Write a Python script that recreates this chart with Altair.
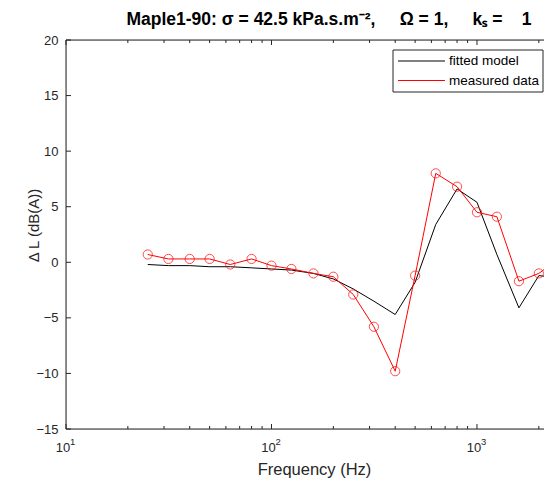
import altair as alt
import pandas as pd

# ---- data ----
freqs = [25, 31.5, 40, 50, 63, 80, 100, 125, 160, 200, 250, 315, 400, 500,
         630, 800, 1000, 1250, 1600, 2000, 2500]
measured = [0.7, 0.3, 0.3, 0.3, -0.2, 0.3, -0.3, -0.6, -1.0, -1.3, -2.9, -5.8,
            -9.8, -1.2, 8.0, 6.8, 4.5, 4.1, -1.7, -1.0, 0.3]
model = [-0.2, -0.3, -0.3, -0.4, -0.4, -0.5, -0.6, -0.7, -1.0, -1.5, -2.4,
         -3.5, -4.7, -1.8, 3.4, 6.6, 5.4, 0.7, -4.1, -1.2, -1.4]
y_ticks = [-15, -10, -5, 0, 5, 10, 15, 20]
x_major = [10, 100, 1000]
x_major_exp = ["1", "2", "3"]
x_minor = [20, 30, 40, 50, 60, 70, 80, 90, 200, 300, 400, 500, 600, 700,
           800, 900, 2000]
legend_labels = ["fitted model", "measured data"]
legend_colors = ["black", "red"]
NB = "\u00a0"
title_text = ("Maple1-90: \u03c3 = 42.5 kPa.s.m\u207b\u00b2," + NB * 5 + "\u03a9 = 1," + NB * 5
              + "k\u209b" + NB + "=" + NB * 4 + "1")
x_title = "Frequency (Hz)"
y_title = "\u0394 L (dB(A))"

# ---- layout ----
W, H = 478, 389
X_MAX = 2119
FONT = "Liberation Sans"
GREY = "#262626"

xs = alt.Scale(type="log", domain=[10, X_MAX], nice=False)
ys = alt.Scale(domain=[-15, 20], nice=False, zero=False)

x_axis = alt.Axis(values=x_major, grid=False, ticks=False, domain=False, labels=False,
                  title=x_title, titleFont=FONT, titleFontSize=16.5, titleFontWeight="normal",
                  titleColor=GREY, titleX=248, titleY=40, titleBaseline="middle",
                  titleAlign="center")
y_axis = alt.Axis(values=y_ticks, grid=False, ticks=False, domain=False,
                  labelFont=FONT, labelFontSize=13, labelColor=GREY, labelPadding=8,
                  labelFlush=False,
                  title=y_title, titleFont=FONT, titleFontSize=15, titleFontWeight="normal",
                  titleColor=GREY, titleX=-33, titleY=185, titleBaseline="middle",
                  titleAlign="center", titleAngle=270)

df = pd.DataFrame({"f": freqs, "measured": measured, "model": model})
base = alt.Chart(df)

model_line = base.mark_line(color="black", strokeWidth=1, clip=True).encode(
    x=alt.X("f:Q", scale=xs, axis=x_axis),
    y=alt.Y("model:Q", scale=ys, axis=y_axis))
meas_line = base.mark_line(color="red", strokeWidth=1, clip=True).encode(
    x=alt.X("f:Q", scale=xs, axis=x_axis),
    y=alt.Y("measured:Q", scale=ys, axis=y_axis))
meas_pts = base.mark_point(shape="circle", color="red", filled=False, size=85,
                           strokeWidth=1, clip=True).encode(
    x=alt.X("f:Q", scale=xs, axis=x_axis),
    y=alt.Y("measured:Q", scale=ys, axis=y_axis))

# frame: left, top, bottom (right edge lies beyond the visible area)
one = alt.Chart(pd.DataFrame({"a": [0]}))
frame = [
    one.mark_rule(color=GREY, strokeWidth=1).encode(x=alt.value(0), y=alt.value(0), y2=alt.value(H)),
    one.mark_rule(color=GREY, strokeWidth=1).encode(x=alt.value(0), x2=alt.value(W), y=alt.value(0)),
    one.mark_rule(color=GREY, strokeWidth=1).encode(x=alt.value(0), x2=alt.value(W), y=alt.value(H)),
]

# inward ticks (MATLAB style)
maj = alt.Chart(pd.DataFrame({"f": x_major, "exp": x_major_exp}))
mnr = alt.Chart(pd.DataFrame({"f": x_minor}))
xt = []
for src, ln in ((maj, 5), (mnr, 3)):
    xt.append(src.mark_rule(color=GREY, strokeWidth=1).encode(
        x=alt.X("f:Q", scale=xs, axis=x_axis), y=alt.value(H), y2=alt.value(H - ln)))
    xt.append(src.mark_rule(color=GREY, strokeWidth=1).encode(
        x=alt.X("f:Q", scale=xs, axis=x_axis), y=alt.value(0), y2=alt.value(ln)))
yt = alt.Chart(pd.DataFrame({"model": y_ticks})).mark_rule(color=GREY, strokeWidth=1).encode(
    y=alt.Y("model:Q", scale=ys, axis=y_axis), x=alt.value(0), x2=alt.value(5))

# x tick labels 10^n with a real superscript
xl_base = maj.mark_text(font=FONT, fontSize=13, color=GREY, align="center",
                        baseline="middle", dx=-3).encode(
    x=alt.X("f:Q", scale=xs, axis=x_axis), y=alt.value(H + 19), text=alt.value("10"))
xl_exp = maj.mark_text(font=FONT, fontSize=9.5, color=GREY, align="left",
                       baseline="middle", dx=4).encode(
    x=alt.X("f:Q", scale=xs, axis=x_axis), y=alt.value(H + 13), text="exp:N")

# legend (drawn like MATLAB's boxed legend)
LX0, LX1, LY0, LY1 = 327, 477, 10, 52
row_y = [21, 40.5]
leg_box = one.mark_rect(fill="white", stroke=GREY, strokeWidth=1).encode(
    x=alt.value(LX0), x2=alt.value(LX1), y=alt.value(LY0), y2=alt.value(LY1))
leg_layers = [leg_box]
for lab, col, yy in zip(legend_labels, legend_colors, row_y):
    d = alt.Chart(pd.DataFrame({"label": [lab]}))
    leg_layers.append(d.mark_rule(color=col, strokeWidth=1).encode(
        x=alt.value(LX0 + 5), x2=alt.value(LX0 + 52), y=alt.value(yy)))
    leg_layers.append(d.mark_text(align="left", baseline="middle", font=FONT,
                                  fontSize=13.5, color="black").encode(
        text="label:N", x=alt.value(LX0 + 56), y=alt.value(yy)))

chart = alt.layer(model_line, meas_line, meas_pts, *frame, *xt, yt, xl_base, xl_exp,
                  *leg_layers).properties(
    width=W, height=H,
    title=alt.TitleParams(text=title_text, font=FONT, fontSize=17.5, fontWeight="bold",
                          color="black", anchor="middle", dx=24, dy=22, offset=14,
                          baseline="alphabetic", frame="group"),
    padding={"left": 58, "top": 32, "right": 0, "bottom": 50},
    autosize=alt.AutoSizeParams(type="none"),
).configure_view(strokeOpacity=0).configure(background="white")

chart.save("out.html", embed_options={"renderer": "svg", "actions": False})
